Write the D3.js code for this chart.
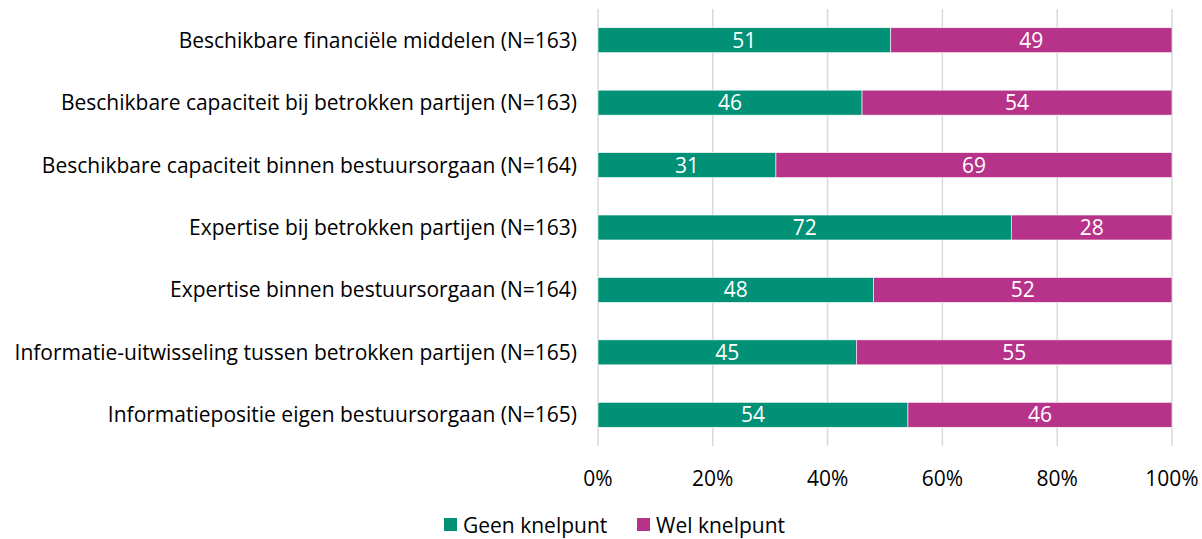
<!DOCTYPE html>
<html>
<head>
<meta charset="utf-8">
<script src="https://cdn.jsdelivr.net/npm/d3@7"></script>
<style>
  body { margin: 0; background: #fff; }
  svg text { font-family: "Open Sans", "Noto Sans", sans-serif; font-size: 21px; }
</style>
</head>
<body>
<svg id="chart" width="1202" height="539"></svg>
<script>
// data
const categories = [
  'Beschikbare financiële middelen (N=163)',
  'Beschikbare capaciteit bij betrokken partijen (N=163)',
  'Beschikbare capaciteit binnen bestuursorgaan (N=164)',
  'Expertise bij betrokken partijen (N=163)',
  'Expertise binnen bestuursorgaan (N=164)',
  'Informatie-uitwisseling tussen betrokken partijen (N=165)',
  'Informatiepositie eigen bestuursorgaan (N=165)'
];
const geenKnelpunt = [51, 46, 31, 72, 48, 45, 54];
const welKnelpunt = [49, 54, 69, 28, 52, 55, 46];
const seriesNames = ['Geen knelpunt', 'Wel knelpunt'];
const seriesColors = ['#009177', '#b7338a'];
const tickValues = [0, 20, 40, 60, 80, 100];

const svg = d3.select('#chart');
const margin = { left: 598, right: 30, top: 9, bottom: 93 };
const width = 1202, height = 539;

const x = d3.scaleLinear().domain([0, 100]).range([margin.left, width - margin.right]);
const y = d3.scaleBand().domain(categories).range([margin.top, height - margin.bottom]).paddingInner(0.6).paddingOuter(0.3);

// gridlines
svg.append('g')
  .selectAll('line')
  .data(tickValues)
  .enter()
  .append('line')
  .attr('x1', d => x(d)).attr('x2', d => x(d))
  .attr('y1', margin.top).attr('y2', height - margin.bottom)
  .style('stroke', '#d9d9d9')
  .style('stroke-width', 1.5);

const rows = categories.map((c, i) => ({ cat: c, vals: [geenKnelpunt[i], welKnelpunt[i]] }));

const row = svg.append('g')
  .selectAll('g')
  .data(rows)
  .enter()
  .append('g');

row.each(function(d) {
  let start = 0;
  const g = d3.select(this);
  d.vals.forEach((v, k) => {
    g.append('rect')
      .attr('x', x(start))
      .attr('y', y(d.cat))
      .attr('width', x(start + v) - x(start))
      .attr('height', y.bandwidth())
      .style('fill', seriesColors[k])
      .style('stroke', 'white')
      .style('stroke-width', 0.6);
    g.append('text')
      .attr('x', x(start + v / 2))
      .attr('y', y(d.cat) + y.bandwidth() / 2)
      .attr('dy', '0.36em')
      .attr('text-anchor', 'middle')
      .style('fill', 'white')
      .text(v);
    start += v;
  });
});

// category labels
svg.append('g')
  .selectAll('text')
  .data(categories)
  .enter()
  .append('text')
  .attr('x', 577)
  .attr('y', d => y(d) + y.bandwidth() / 2)
  .attr('dy', '0.36em')
  .attr('text-anchor', 'end')
  .style('fill', '#000')
  .text(d => d);

// x axis labels
svg.append('g')
  .selectAll('text')
  .data(tickValues)
  .enter()
  .append('text')
  .attr('x', d => x(d))
  .attr('y', 478)
  .attr('dy', '0.36em')
  .attr('text-anchor', 'middle')
  .style('fill', '#000')
  .text(d => d + '%');

// legend
const legend = svg.append('g');
const legendX = [444, 637];
seriesNames.forEach((name, i) => {
  legend.append('rect')
    .attr('x', legendX[i]).attr('y', 518)
    .attr('width', 13).attr('height', 13)
    .style('fill', seriesColors[i]);
  legend.append('text')
    .attr('x', legendX[i] + 19)
    .attr('y', 525)
    .attr('dy', '0.36em')
    .style('fill', '#000')
    .text(name);
});
</script>
</body>
</html>
